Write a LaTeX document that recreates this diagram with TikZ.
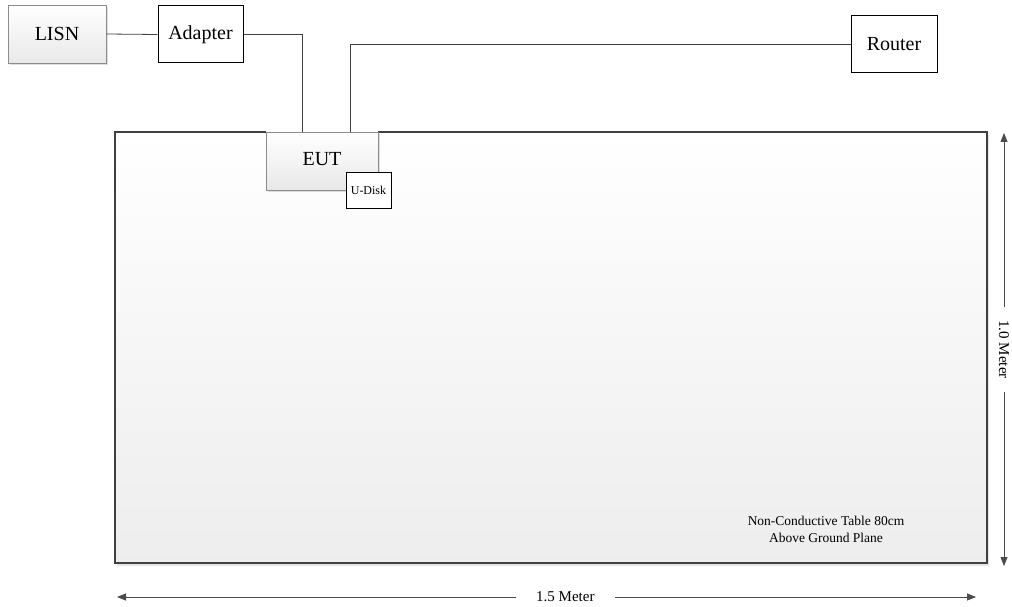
\documentclass[tikz,border=0pt]{standalone}
\usepackage{fontspec}
\setmainfont{Liberation Serif}
\usetikzlibrary{arrows.meta,shadows}
\begin{document}
\begin{tikzpicture}[x=1pt,y=-1pt,
  graybox/.style={rectangle, draw=black!45, line width=0.8pt, top color=white, bottom color=black!9,
    drop shadow={opacity=0.25, shadow xshift=2pt, shadow yshift=-2pt}, font=\fontsize{20}{24}\selectfont},
  plainbox/.style={rectangle, draw=black, line width=1pt, fill=white, font=\fontsize{20}{24}\selectfont},
  wire/.style={draw=black!75, line width=0.8pt},
  dimline/.style={draw=black!70, line width=0.8pt, {Triangle[length=9pt,width=7pt]}-{Triangle[length=9pt,width=7pt]}},
  dimlabel/.style={fill=white, inner ysep=3pt, font=\fontsize{15}{18}\selectfont}]
\useasboundingbox (0,0) rectangle (1012,607);
% table
\node [rectangle, draw=black!75, line width=2.6pt, top color=white, bottom color=black!7,
  drop shadow={opacity=0.2, shadow xshift=2pt, shadow yshift=-3pt},
  minimum width=872pt, minimum height=431pt, inner sep=0pt] (table) at (551,347.5) {};
\node [align=center, font=\fontsize{13.5}{17}\selectfont] (tabletext) at (826,529) {Non-Conductive Table 80cm\\Above Ground Plane};
% devices
\node [graybox, minimum width=98pt, minimum height=58pt] (lisn) at (57,34) {LISN};
\node [plainbox, minimum width=85pt, minimum height=57pt] (adapter) at (200.5,34.5) {Adapter};
\node [plainbox, minimum width=86pt, minimum height=57pt] (router) at (894,44.5) {Router};
\node [graybox, minimum width=112pt, minimum height=58pt, drop shadow={opacity=0}] (eut) at (322,161) {};
\node [font=\fontsize{20}{24}\selectfont] (euttext) at (322,159) {EUT};
\node [plainbox, minimum width=45pt, minimum height=36pt, inner sep=0pt, font=\fontsize{12}{14}\selectfont] (udisk) at (368.5,190) {U-Disk};
% cables
\draw [wire] (lisn.east) -- (adapter.west);
\draw [wire] (adapter.east) -| (302,132);
\draw [wire] (router.west) -| (350,132);
% dimensions
\coordinate (vtop) at (1004,133);
\coordinate (vbot) at (1004,566);
\coordinate (hleft) at (117,597);
\coordinate (hright) at (976,597);
\draw [dimline] (vtop) -- node [dimlabel, rotate=-90, inner xsep=13pt, pos=0.5] (vlabel) {1.0 Meter} (vbot);
\draw [dimline] (hleft) -- node [dimlabel, inner xsep=20pt, pos=0.522] (hlabel) {1.5 Meter} (hright);
\end{tikzpicture}
\end{document}
